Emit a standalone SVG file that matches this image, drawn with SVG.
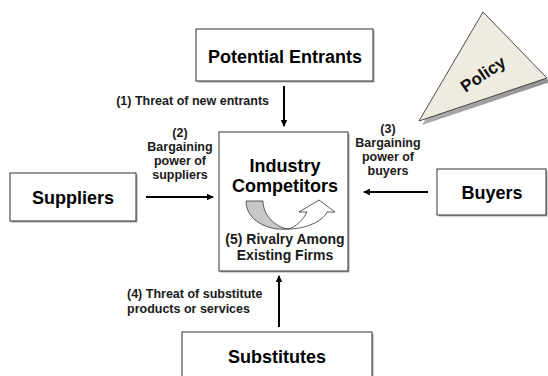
<svg xmlns="http://www.w3.org/2000/svg" width="548" height="376" viewBox="0 0 548 376">
<defs>
<style>
.box{fill:#fff;stroke:#333;stroke-width:1}
.shadow{fill:#a8a8a8}
.big{font-family:"Liberation Sans",Arial,sans-serif;font-weight:bold;font-size:18px;fill:#000;text-anchor:middle}
.lbl{font-family:"Liberation Sans",Arial,sans-serif;font-weight:bold;font-size:12.5px;fill:#1a1a1a}
.mid{text-anchor:middle}
.conn{stroke:#000;stroke-width:2;fill:none;marker-end:url(#ah)}
</style>
<marker id="ah" markerWidth="8" markerHeight="8" refX="6" refY="4" orient="auto" markerUnits="userSpaceOnUse">
<path d="M0,0.8 L7,4 L0,7.2 Z" fill="#000"/>
</marker>
<linearGradient id="sh" x1="0" y1="0" x2="1" y2="1">
<stop offset="0" stop-color="#d8d8d8"/>
<stop offset="1" stop-color="#808080"/>
</linearGradient>
</defs>
<rect width="548" height="376" fill="#fff"/>

<g id="policy">
<polygon points="486,16 550,82 422,125" fill="url(#sh)"/>
<polygon points="483,12 547,78 419,121" fill="#eeece1" stroke="#222" stroke-width="0.8"/>
<text x="483" y="80" transform="rotate(-34 483 74)" font-family="'Liberation Sans',Arial,sans-serif" font-weight="bold" font-size="17" text-anchor="middle" fill="#111">Policy</text>
</g>

<g id="potential-entrants">
<rect class="shadow" x="197.5" y="30.5" width="177" height="52"/>
<rect class="box" x="196" y="29" width="177" height="52"/>
<text class="big" x="285" y="63">Potential Entrants</text>
</g>

<g id="industry-competitors">
<rect class="shadow" x="220.5" y="133.5" width="129" height="139"/>
<rect class="box" x="219" y="132" width="129" height="139"/>
<text class="big" x="285" y="172">Industry</text>
<text class="big" x="285" y="192">Competitors</text>
<path d="M246,201 L263,201 C263,215 275,227 288,229 C267,231 246,220 246,201 Z" fill="#c8c8c8" stroke="#333" stroke-width="0.8"/>
<path d="M288,229 C305,229 322,222 327,212 L335,212 L319,200 L299,212 L307,212 C303,220 296,227 288,229 Z" fill="#fff" stroke="#333" stroke-width="0.8"/>
<text class="lbl mid" x="285" y="244" style="font-size:14px">(5) Rivalry Among</text>
<text class="lbl mid" x="285" y="260" style="font-size:14px">Existing Firms</text>
</g>

<g id="suppliers">
<rect class="shadow" x="11.5" y="174.5" width="126" height="48"/>
<rect class="box" x="10" y="173" width="126" height="48"/>
<text class="big" x="73" y="204">Suppliers</text>
</g>

<g id="buyers">
<rect class="shadow" x="438.5" y="170.5" width="109" height="46"/>
<rect class="box" x="437" y="169" width="109" height="46"/>
<text class="big" x="492" y="199">Buyers</text>
</g>

<g id="substitutes">
<rect class="shadow" x="183.5" y="333.5" width="190" height="50"/>
<rect class="box" x="182" y="332" width="190" height="50"/>
<text class="big" x="277" y="363">Substitutes</text>
</g>

<g id="connectors">
<line class="conn" x1="284" y1="86" x2="284" y2="126"/>
<line class="conn" x1="146" y1="197" x2="213" y2="197"/>
<line class="conn" x1="428" y1="192" x2="364" y2="192"/>
<line class="conn" x1="279" y1="327" x2="279" y2="276"/>
</g>

<g id="labels">
<text class="lbl" x="269" y="105" text-anchor="end">(1) Threat of new entrants</text>
<text class="lbl mid" x="180" y="137">(2)</text>
<text class="lbl mid" x="180" y="151">Bargaining</text>
<text class="lbl mid" x="180" y="165">power of</text>
<text class="lbl mid" x="180" y="179">suppliers</text>
<text class="lbl mid" x="388" y="133">(3)</text>
<text class="lbl mid" x="388" y="147">Bargaining</text>
<text class="lbl mid" x="388" y="161">power of</text>
<text class="lbl mid" x="388" y="175">buyers</text>
<text class="lbl" x="127" y="298">(4) Threat of substitute</text>
<text class="lbl" x="127" y="313">products or services</text>
</g>
</svg>
